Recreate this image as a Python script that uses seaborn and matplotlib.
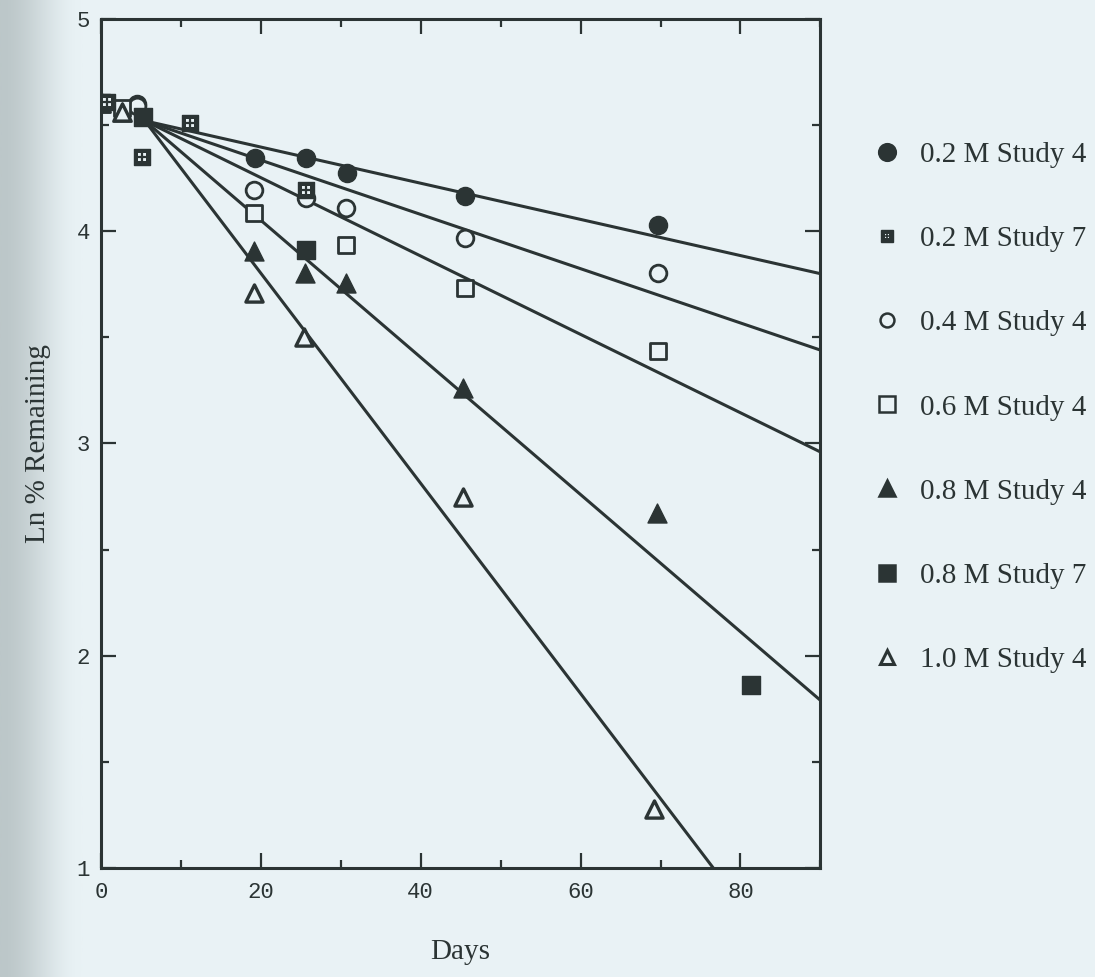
import numpy as np
import matplotlib
matplotlib.use("Agg")
import matplotlib.pyplot as plt
import seaborn as sns
from matplotlib.lines import Line2D
from matplotlib.legend_handler import HandlerTuple
from matplotlib.ticker import MultipleLocator

# data (Days vs Ln % Remaining)
x_02_s4 = [0, 4.5, 19.3, 25.6, 30.8, 45.5, 69.7]
y_02_s4 = [4.605, 4.60, 4.344, 4.344, 4.273, 4.166, 4.029]

x_02_s7 = [0.7, 5.1, 11.2, 25.6]
y_02_s7 = [4.61, 4.35, 4.51, 4.194]

x_04_s4 = [0, 4.5, 19.2, 25.6, 30.7, 45.5, 69.7]
y_04_s4 = [4.605, 4.59, 4.194, 4.155, 4.108, 3.967, 3.802]

x_06_s4 = [0, 2.6, 19.2, 30.7, 45.5, 69.7]
y_06_s4 = [4.605, 4.58, 4.087, 3.935, 3.731, 3.437]

x_08_s4 = [0, 2.6, 19.2, 25.5, 30.7, 45.3, 69.5]
y_08_s4 = [4.605, 4.56, 3.908, 3.802, 3.755, 3.26, 2.674]

x_08_s7 = [0, 5.3, 25.6, 81.3]
y_08_s7 = [4.605, 4.54, 3.912, 1.862]

x_10_s4 = [0, 2.6, 19.1, 25.4, 45.3, 69.2]
y_10_s4 = [4.605, 4.56, 3.708, 3.503, 2.75, 1.277]

# fitted lines (0.2, 0.4, 0.6, 0.8, 1.0 M Study 4): start and end points
fit_x0 = [5.5, 5.5, 5.5, 5.5, 5.5]
fit_y0 = [4.52, 4.52, 4.52, 4.52, 4.52]
fit_x1 = [90, 90, 90, 90, 76.6]
fit_y1 = [3.80, 3.44, 2.96, 1.79, 1.0]

labels = ["0.2 M Study 4", "0.2 M Study 7", "0.4 M Study 4", "0.6 M Study 4",
          "0.8 M Study 4", "0.8 M Study 7", "1.0 M Study 4"]

ink = "#2b3434"
bg = "#e9f2f5"

sns.set_theme(style="ticks")
plt.rcParams["font.family"] = ["Liberation Serif", "DejaVu Serif"]

fig = plt.figure(figsize=(10.95, 9.77), dpi=100)
fig.patch.set_facecolor(bg)

# scanner shadow on the left edge
shade = fig.add_axes([0, 0, 0.075, 1], zorder=-5)
t = np.linspace(0, 1, 300)
grad = (t * t * (3 - 2 * t))[None, :]
shade.imshow(grad, aspect="auto", interpolation="bilinear",
             cmap=matplotlib.colors.LinearSegmentedColormap.from_list("sh", ["#bcc7c9", bg]),
             extent=[0, 1, 0, 1], vmin=0, vmax=1)
shade.axis("off")

ax = fig.add_axes([0.0922, 0.1116, 0.657, 0.869])
ax.set_facecolor(bg)

# fit lines
for i in range(len(fit_x0)):
    sns.lineplot(x=[fit_x0[i], fit_x1[i]], y=[fit_y0[i], fit_y1[i]], ax=ax,
                 color=ink, lw=2.2, zorder=2)

ms = 170
sns.scatterplot(x=x_02_s4, y=y_02_s4, ax=ax, marker="o", s=ms, color=ink,
                edgecolor=ink, linewidth=1, zorder=4)
sns.scatterplot(x=x_04_s4, y=y_04_s4, ax=ax, marker="o", s=ms * 0.85, color=bg,
                edgecolor=ink, linewidth=2, zorder=4)
sns.scatterplot(x=x_06_s4, y=y_06_s4, ax=ax, marker="s", s=ms * 0.85, color=bg,
                edgecolor=ink, linewidth=2, zorder=4)
sns.scatterplot(x=x_08_s4, y=y_08_s4, ax=ax, marker="^", s=ms * 1.1, color=ink,
                edgecolor=ink, linewidth=1, zorder=4)
sns.scatterplot(x=x_08_s7, y=y_08_s7, ax=ax, marker="s", s=ms * 0.95, color=ink,
                edgecolor=ink, linewidth=1, zorder=4)
sns.scatterplot(x=x_10_s4, y=y_10_s4, ax=ax, marker="^", s=ms * 0.9, color=bg,
                edgecolor=ink, linewidth=2.4, zorder=4)
# "window" squares
sns.scatterplot(x=x_02_s7, y=y_02_s7, ax=ax, marker="s", s=ms * 0.8, color=ink,
                edgecolor=ink, linewidth=1, zorder=5)
sns.scatterplot(x=x_02_s7, y=y_02_s7, ax=ax, marker="s", s=ms * 0.22, color=bg,
                edgecolor=bg, linewidth=0, zorder=6)
sns.scatterplot(x=x_02_s7, y=y_02_s7, ax=ax, marker="+", s=ms * 0.22, color=ink,
                linewidth=1.6, zorder=7)

ax.set_xlim(0, 90)
ax.set_ylim(1, 5)
ax.xaxis.set_major_locator(MultipleLocator(20))
ax.xaxis.set_minor_locator(MultipleLocator(10))
ax.yaxis.set_major_locator(MultipleLocator(1))
ax.yaxis.set_minor_locator(MultipleLocator(0.5))
ax.tick_params(which="both", direction="in", top=True, right=True, color=ink,
               width=1.6, labelcolor=ink)
ax.tick_params(which="major", length=11)
ax.tick_params(which="minor", length=6)
ax.tick_params(axis="x", which="major", pad=10)
ax.tick_params(axis="y", which="major", pad=8)
for lab in ax.get_xticklabels() + ax.get_yticklabels():
    lab.set_family(["Liberation Mono", "DejaVu Sans Mono"])
    lab.set_fontsize(16)
for sp in ax.spines.values():
    sp.set_color(ink)
    sp.set_linewidth(2.2)

ax.set_xlabel("Days", fontsize=21, color=ink, labelpad=26)
ax.set_ylabel("Ln % Remaining", fontsize=21, color=ink, labelpad=18)

# legend
def h(marker, size, face, mew=1.8):
    return Line2D([], [], ls="none", marker=marker, markersize=size,
                  markerfacecolor=face, markeredgecolor=ink, markeredgewidth=mew)

window = (h("s", 8, ink, 1), h("s", 3.5, bg, 0),
          Line2D([], [], ls="none", marker="+", markersize=3.5, color=ink, markeredgewidth=1.2))
handles = [h("o", 12, ink), window, h("o", 10, bg), h("s", 11, bg),
           h("^", 12, ink), h("s", 11, ink), h("^", 10, bg, 2.2)]
fig.legend(handles, labels, loc="upper left", bbox_to_anchor=(0.783, 0.870),
           frameon=False, fontsize=21, labelspacing=1.98, handlelength=1.0,
           handletextpad=0.65, borderpad=0, labelcolor=ink,
           handler_map={tuple: HandlerTuple(ndivide=1)})

fig.savefig("out.png", dpi=100, facecolor=bg)
